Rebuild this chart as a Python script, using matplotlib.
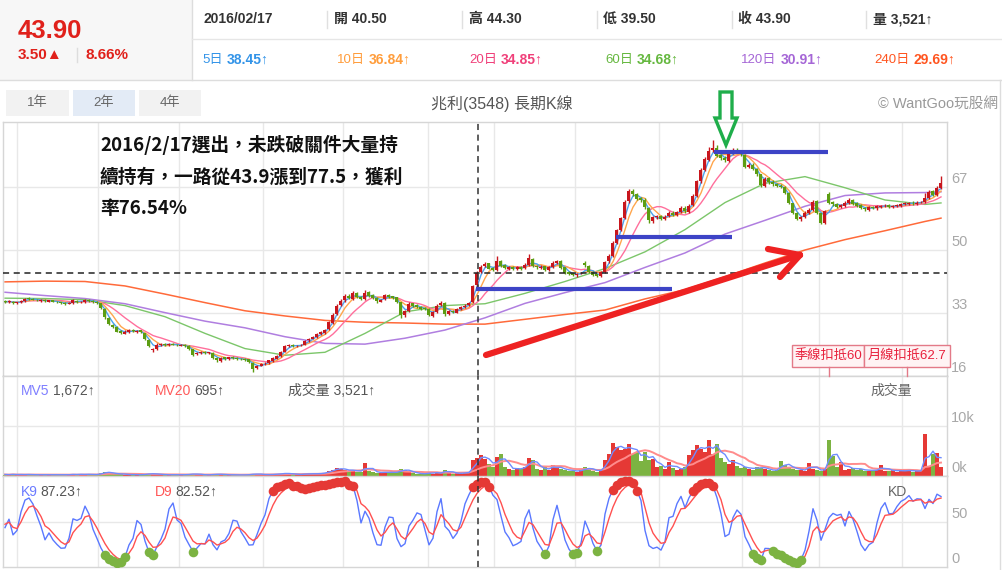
import numpy as np
import pandas as pd
import matplotlib
matplotlib.use("Agg")
import matplotlib.pyplot as plt
import matplotlib.transforms as mtransforms
from matplotlib.patches import Rectangle, Polygon
from matplotlib.lines import Line2D

plt.rcParams['font.family'] = ['Liberation Sans', 'Noto Sans CJK TC', 'DejaVu Sans']

# ---------------- data (one bar ~ two trading days) ----------------
opens = [
    36.3, 35.9, 36.1, 35.6, 35.9, 36.3, 37.1, 36.9, 36.6, 36.3,
    36.5, 36.1, 36.4, 36.1, 35.9, 35.8, 35.5, 35.7, 36.3, 35.9,
    36.0, 36.6, 36.3, 36.0, 35.6, 34.0, 31.6, 29.8, 29.2, 28.1,
    27.4, 27.9, 28.4, 27.9, 28.3, 27.5, 25.8, 22.9, 23.3, 24.4,
    24.7, 24.3, 24.7, 24.5, 24.2, 24.5, 24.1, 23.2, 21.9, 22.2,
    22.6, 22.1, 22.3, 20.9, 20.1, 21.0, 20.6, 21.1, 20.9, 20.6,
    20.6, 20.5, 19.5, 18.2, 18.8, 19.4, 19.5, 20.1, 20.7, 21.3,
    22.6, 24.1, 24.4, 24.0, 24.3, 24.5, 25.6, 26.1, 26.4, 27.4,
    27.7, 28.6, 30.4, 32.6, 35.1, 36.4, 37.7, 36.9, 38.4, 37.3,
    36.9, 38.6, 37.8, 37.1, 36.1, 36.7, 37.9, 37.5, 37.2, 35.9,
    32.4, 33.6, 35.6, 35.1, 34.7, 34.3, 34.1, 32.3, 33.2, 35.1,
    35.7, 32.7, 33.6, 33.1, 34.1, 34.5, 35.1, 36.0, 40.5, 44.0,
    45.6, 46.4, 45.1, 44.5, 47.1, 45.9, 45.0, 45.4, 44.8, 45.4,
    45.1, 45.9, 47.7, 45.7, 45.2, 45.6, 44.5, 45.3, 46.4, 47.0,
    45.3, 44.0, 43.7, 43.2, 43.7, 46.4, 45.8, 44.1, 43.4, 43.0,
    44.1, 46.9, 48.4, 52.0, 55.3, 58.7, 63.1, 65.9, 65.1, 63.9,
    63.6, 61.4, 57.9, 58.9, 59.1, 58.5, 59.1, 60.1, 59.4, 60.3,
    61.4, 60.3, 62.1, 64.6, 68.6, 71.7, 74.4, 76.9, 77.6, 75.6,
    74.9, 74.1, 76.1, 77.1, 76.6, 75.7, 72.4, 73.0, 71.9, 70.4,
    67.4, 69.3, 68.4, 67.9, 67.4, 67.1, 65.4, 62.6, 59.9, 58.3,
    58.9, 60.1, 60.7, 63.1, 59.9, 57.3, 65.0, 62.9, 62.4, 61.6,
    62.0, 62.6, 63.5, 62.6, 62.1, 61.4, 60.9, 61.7, 61.2, 61.7,
    61.8, 62.1, 61.5, 61.9, 62.0, 62.4, 62.5, 62.8, 62.5, 62.9,
    62.9, 64.1, 65.8, 64.8, 66.7]

highs = [
    36.5, 36.4, 36.3, 36.1, 36.5, 37.0, 37.3, 37.0, 36.8, 36.7,
    36.7, 36.6, 36.6, 36.3, 36.1, 36.0, 36.0, 36.8, 36.5, 36.3,
    36.9, 36.8, 36.5, 36.2, 35.8, 34.3, 31.9, 30.1, 29.5, 28.4,
    28.3, 28.6, 28.6, 28.5, 28.5, 27.7, 26.0, 23.6, 24.8, 24.9,
    24.9, 24.8, 24.9, 24.7, 24.6, 24.7, 24.3, 23.4, 22.6, 22.8,
    22.8, 22.6, 22.5, 21.1, 21.1, 21.2, 21.2, 21.3, 21.0, 20.8,
    20.8, 20.7, 19.7, 19.0, 19.5, 19.8, 20.4, 21.0, 21.6, 22.8,
    24.3, 24.6, 24.6, 24.4, 24.7, 25.8, 26.3, 26.8, 27.6, 28.1,
    28.8, 30.8, 32.9, 35.4, 36.8, 38.0, 38.0, 39.0, 38.6, 37.6,
    39.2, 38.9, 38.0, 37.3, 36.9, 38.2, 38.1, 37.6, 37.4, 36.0,
    33.9, 35.9, 35.8, 35.3, 34.9, 34.5, 34.3, 33.6, 35.3, 36.2,
    35.9, 33.8, 33.8, 34.3, 34.9, 35.3, 36.1, 40.6, 44.3, 46.0,
    46.8, 46.6, 45.4, 48.4, 47.4, 46.1, 45.7, 45.6, 45.6, 45.6,
    46.4, 49.0, 47.9, 45.9, 45.9, 45.8, 45.7, 47.0, 47.4, 47.3,
    45.5, 44.2, 43.9, 43.9, 44.1, 46.9, 46.0, 44.3, 43.6, 44.3,
    47.1, 48.9, 52.3, 55.8, 59.0, 63.6, 66.5, 66.4, 65.4, 64.2,
    63.9, 61.6, 59.3, 59.5, 59.4, 59.4, 60.6, 60.5, 60.6, 61.8,
    61.8, 62.4, 65.0, 69.0, 72.2, 75.2, 77.8, 79.6, 78.2, 76.0,
    75.3, 76.5, 77.6, 77.5, 76.9, 75.9, 73.5, 73.4, 72.2, 70.6,
    69.7, 69.6, 68.8, 68.2, 67.8, 67.4, 65.6, 62.8, 60.2, 59.3,
    60.4, 61.3, 63.6, 63.5, 60.1, 60.9, 65.6, 63.2, 62.7, 62.5,
    63.1, 64.0, 63.8, 62.9, 62.3, 61.6, 61.9, 61.9, 62.1, 62.2,
    62.4, 62.3, 62.1, 62.4, 62.6, 63.0, 63.0, 63.1, 63.1, 63.3,
    65.5, 66.3, 66.2, 67.2, 70.0]

lows = [
    35.7, 35.7, 35.4, 35.4, 35.7, 36.1, 36.6, 36.4, 36.2, 36.1,
    36.0, 35.9, 35.9, 35.7, 35.5, 35.2, 35.3, 35.5, 35.8, 35.7,
    35.8, 36.0, 35.8, 35.5, 34.0, 31.5, 29.7, 29.0, 27.8, 27.2,
    27.2, 27.7, 27.8, 27.7, 27.5, 25.7, 23.8, 22.6, 23.1, 24.2,
    24.1, 24.1, 24.3, 24.0, 24.0, 23.8, 23.1, 21.5, 21.6, 22.0,
    21.9, 21.9, 20.5, 19.8, 19.9, 20.4, 20.4, 20.6, 20.3, 20.2,
    20.1, 19.5, 17.0, 18.0, 18.6, 19.1, 19.3, 19.9, 20.5, 21.1,
    22.4, 23.8, 23.8, 23.8, 24.0, 24.3, 25.3, 25.9, 26.2, 27.1,
    27.4, 28.3, 30.1, 32.4, 34.8, 36.1, 36.7, 36.6, 37.0, 36.4,
    36.6, 37.4, 36.7, 35.8, 35.9, 36.5, 37.1, 36.8, 35.8, 31.6,
    32.0, 33.4, 34.7, 34.3, 33.9, 33.7, 32.1, 32.0, 33.0, 34.9,
    32.3, 32.4, 32.9, 32.9, 33.9, 34.3, 34.9, 35.7, 39.5, 43.7,
    45.3, 44.8, 44.2, 44.3, 45.5, 44.8, 44.7, 44.5, 44.6, 44.7,
    44.9, 45.7, 45.3, 45.0, 45.0, 44.3, 44.2, 45.1, 46.1, 44.9,
    43.5, 43.2, 42.9, 42.8, 43.4, 45.4, 43.7, 43.0, 42.7, 42.8,
    43.9, 46.5, 48.1, 51.7, 55.0, 58.4, 62.8, 64.6, 63.4, 63.0,
    61.1, 57.4, 57.4, 58.5, 58.0, 58.1, 58.8, 59.1, 59.1, 60.0,
    60.0, 60.1, 61.8, 64.3, 68.2, 71.4, 74.0, 76.4, 75.1, 74.3,
    73.7, 73.8, 75.8, 76.1, 75.4, 72.0, 72.0, 71.5, 70.1, 67.1,
    67.0, 67.9, 67.4, 66.9, 66.6, 65.2, 62.4, 59.7, 58.0, 57.7,
    58.6, 59.7, 60.5, 59.6, 56.9, 56.9, 62.4, 62.0, 61.3, 61.3,
    61.7, 62.3, 62.2, 61.6, 61.0, 60.6, 60.6, 61.0, 60.9, 61.4,
    61.5, 61.3, 61.2, 61.6, 61.7, 62.1, 62.2, 62.2, 62.2, 62.6,
    62.6, 63.8, 64.6, 64.5, 66.4]

closes = [
    36.0, 36.2, 35.6, 35.9, 36.3, 36.8, 36.9, 36.6, 36.4, 36.5,
    36.2, 36.4, 36.1, 35.9, 35.7, 35.5, 35.8, 36.4, 36.0, 36.1,
    36.6, 36.2, 36.0, 35.8, 34.3, 31.8, 30.0, 29.3, 28.0, 27.6,
    28.0, 28.3, 28.1, 28.2, 27.8, 26.0, 24.0, 23.2, 24.5, 24.6,
    24.4, 24.6, 24.5, 24.3, 24.4, 24.0, 23.4, 21.8, 22.3, 22.5,
    22.2, 22.4, 20.8, 20.2, 20.9, 20.7, 21.0, 20.8, 20.6, 20.5,
    20.4, 19.8, 18.0, 18.8, 19.3, 19.5, 20.2, 20.8, 21.4, 22.5,
    24.0, 24.3, 24.1, 24.2, 24.4, 25.5, 26.0, 26.5, 27.3, 27.8,
    28.5, 30.5, 32.5, 35.0, 36.3, 37.6, 37.0, 38.3, 37.2, 36.8,
    38.5, 37.7, 37.0, 36.2, 36.6, 37.8, 37.4, 37.1, 36.0, 32.5,
    33.5, 35.5, 35.0, 34.6, 34.2, 34.0, 32.4, 33.3, 35.0, 35.8,
    32.6, 33.5, 33.2, 34.0, 34.6, 35.0, 35.8, 40.4, 43.9, 45.5,
    46.3, 45.0, 44.6, 47.0, 45.8, 45.1, 45.3, 44.9, 45.3, 45.0,
    46.0, 47.8, 45.6, 45.3, 45.5, 44.6, 45.4, 46.5, 46.9, 45.2,
    43.9, 43.6, 43.3, 43.6, 43.8, 45.9, 44.0, 43.3, 43.1, 44.0,
    46.8, 48.5, 51.9, 55.4, 58.6, 63.0, 65.8, 65.0, 63.8, 63.5,
    61.5, 58.0, 58.8, 59.0, 58.4, 59.0, 60.0, 59.5, 60.2, 61.3,
    60.4, 62.0, 64.5, 68.5, 71.6, 74.5, 76.8, 77.5, 75.5, 74.8,
    74.2, 76.0, 77.0, 76.5, 75.8, 72.5, 72.9, 71.8, 70.5, 67.5,
    69.2, 68.3, 67.8, 67.3, 67.0, 65.5, 62.7, 60.0, 58.4, 58.8,
    60.0, 60.8, 63.0, 60.0, 57.4, 60.5, 62.8, 62.5, 61.7, 62.1,
    62.7, 63.4, 62.5, 62.0, 61.3, 61.0, 61.6, 61.3, 61.8, 61.9,
    62.0, 61.6, 61.8, 62.1, 62.3, 62.6, 62.7, 62.6, 62.8, 63.0,
    64.0, 65.7, 64.9, 66.8, 68.2]

volumes = [
    300, 250, 400, 200, 300, 350, 250, 200, 300, 250,
    200, 300, 250, 200, 250, 300, 200, 450, 250, 300,
    400, 300, 250, 300, 700, 900, 600, 400, 500, 350,
    300, 250, 300, 200, 250, 450, 500, 400, 350, 300,
    200, 250, 300, 200, 250, 300, 350, 500, 300, 250,
    200, 250, 400, 350, 300, 250, 200, 250, 200, 200,
    250, 300, 500, 350, 300, 250, 300, 350, 400, 500,
    600, 400, 300, 350, 300, 500, 450, 400, 500, 550,
    700, 1100, 1300, 1600, 1400, 1200, 1000, 1300, 900, 800,
    2600, 1100, 800, 700, 600, 900, 700, 600, 900, 1400,
    1200, 900, 600, 500, 400, 450, 800, 500, 700, 600,
    1300, 700, 500, 600, 500, 700, 900, 3200, 3521, 4300,
    3500, 2500, 1800, 3900, 4400, 1900, 1500, 1200, 1700, 1400,
    1900, 3700, 3200, 1500, 1200, 1800, 1300, 2200, 1600, 1400,
    1300, 1000, 1100, 900, 1200, 1800, 1500, 1000, 900, 1400,
    3300, 4500, 6700, 5900, 5200, 5500, 6400, 4500, 4900, 3000,
    4900, 3200, 3500, 1800, 2000, 1400, 2900, 1600, 1200, 1500,
    1800, 4200, 5200, 6300, 5500, 4800, 7300, 4500, 6500, 3600,
    2800, 2500, 3300, 2000, 1600, 1800, 1500, 1300, 1900, 1700,
    1400, 1200, 1000, 1300, 3000, 2200, 1800, 1500, 1300, 1200,
    1100, 2700, 1400, 1200, 1000, 1500, 7200, 4000, 1800, 2900,
    1300, 1500, 1700, 1200, 1400, 1100, 1000, 1300, 1200, 2200,
    1100, 1000, 1300, 900, 1000, 1200, 1100, 900, 1000, 1200,
    8400, 2000, 4500, 4700, 1800]

# long moving averages (bar index -> value)
ma_idx = [0, 10, 20, 30, 40, 50, 60, 70, 80, 90, 100, 110, 120,
          130, 140, 150, 160, 170, 180, 190, 200, 210, 220, 230, 234]
ma60_vals = [37.0, 36.9, 36.6, 35.0, 32.0, 27.5, 23.4, 21.6, 22.4, 27.5, 33.3, 35.0, 35.5,
             38.3, 41.5, 45.0, 49.5, 55.5, 62.8, 68.0, 69.8, 66.8, 63.5, 62.3, 62.7]
ma120_vals = [38.6, 37.7, 36.9, 35.5, 33.1, 30.8, 29.0, 26.6, 24.8, 24.6, 26.2, 28.4, 31.7,
              35.6, 38.5, 41.2, 45.3, 49.2, 54.3, 58.0, 61.8, 64.7, 65.4, 65.5, 65.7]
ma240_vals = [41.4, 41.6, 41.5, 40.3, 38.1, 35.8, 33.6, 32.2, 31.0, 30.5, 30.3, 30.0, 30.0,
              31.3, 32.6, 33.8, 36.8, 39.3, 42.8, 46.5, 50.0, 52.8, 55.2, 57.7, 58.6]

month_grid = [3, 23.25, 43.5, 64.5, 84.5, 105.75, 122.25, 142.5, 163.5, 184.25, 203.5, 224.25]
price_ticks = [67, 50, 33, 16]
vol_ticks = [10000, 0]
vol_tick_labels = ['10k', '0k']
kd_ticks = [50, 0]
sel_idx = 118
sel_close = 43.9

# ---------------- figure ----------------
W, H = 1003, 570
fig = plt.figure(figsize=(W / 100, H / 100), dpi=100)
fig.patch.set_facecolor('white')
renderer = fig.canvas.get_renderer()


def fx(x):
    return x / W


def fy(y):
    return 1 - y / H


def add_ax(top, bottom, left=3, right=947):
    return fig.add_axes([fx(left), fy(bottom), fx(right) - fx(left), fy(top) - fy(bottom)])


def ftext(x, y, s, **kw):
    kw.setdefault('va', 'center')
    kw.setdefault('ha', 'left')
    return fig.text(fx(x), fy(y), s, **kw)


def ftext_after(prev, gap, y, s, **kw):
    bb = prev.get_window_extent(renderer)
    return ftext(bb.x1 + gap, y, s, **kw)


def fline(x0, y0, x1, y1, **kw):
    fig.add_artist(Line2D([fx(x0), fx(x1)], [fy(y0), fy(y1)], transform=fig.transFigure, **kw))


def frect(x0, y0, x1, y1, **kw):
    fig.add_artist(Rectangle((fx(x0), fy(y1)), fx(x1) - fx(x0), fy(y0) - fy(y1),
                             transform=fig.transFigure, **kw))


n = min(len(opens), len(highs), len(lows), len(closes), len(volumes))
idx = np.arange(n)
o = np.array(opens[:n]); h = np.array(highs[:n]); l = np.array(lows[:n]); c = np.array(closes[:n])
v = np.array(volumes[:n])
up = c >= o

ax = add_ax(122, 376)
axv = add_ax(376, 476)
axk = add_ax(476, 567)

GRID = '#e8e8e8'
for a in (ax, axv, axk):
    a.set_xlim(-0.5, 235.5)
    a.set_xticks([]); a.set_yticks([])
    for s in a.spines.values():
        s.set_color('#d6d6d6'); s.set_linewidth(1)
    for g in month_grid:
        a.axvline(g, color=GRID, lw=1, zorder=0)
    a.axvline(sel_idx + 0.25, color='#333333', lw=1.1, ls=(0, (4, 3)), zorder=6)

# ---- main panel ----
ax.set_ylim(16, 84.54)
for t in price_ticks[:-1]:
    ax.axhline(t, color=GRID, lw=1, zorder=0)
ax.spines['bottom'].set_color('#bdbdbd')

cs = pd.Series(c)
ma_cols = {'m5': '#4aa3f0', 'm10': '#ffa64d', 'm20': '#ff6f9c', 'm60': '#7cc66a',
           'm120': '#b07ee0', 'm240': '#ff6a3a'}
ax.plot(ma_idx, ma240_vals, color=ma_cols['m240'], lw=1.1, zorder=2)
ax.plot(ma_idx, ma120_vals, color=ma_cols['m120'], lw=1.1, zorder=2)
ax.plot(ma_idx, ma60_vals, color=ma_cols['m60'], lw=1.0, zorder=2)
ax.plot(idx, cs.rolling(10, min_periods=1).mean(), color=ma_cols['m20'], lw=1.0, zorder=2)
ax.plot(idx, cs.rolling(5, min_periods=1).mean(), color=ma_cols['m10'], lw=1.0, zorder=2)
ax.plot(idx, cs.rolling(3, min_periods=1).mean(), color=ma_cols['m5'], lw=1.0, zorder=2)

body_col = np.where(up, '#c8161d', '#5c9d12')
ax.vlines(idx, l, h, colors=body_col, lw=1, zorder=3)
ax.bar(idx, np.maximum(np.abs(c - o), 0.18), bottom=np.minimum(o, c), width=0.75,
       color=body_col, linewidth=0, zorder=4)

ax.axhline(sel_close, color='#222222', lw=1.1, ls=(0, (4, 3)), zorder=5)

# ---- volume panel ----
axv.set_ylim(0, 20000)
axv.axhline(vol_ticks[0], color=GRID, lw=1, zorder=0)
vol_col = np.where(up, '#e53935', '#7cb342')
axv.bar(idx, v, width=0.78, color=vol_col, linewidth=0, zorder=3)
vs = pd.Series(v.astype(float))
axv.plot(idx, vs.rolling(10, min_periods=1).mean(), color='#ff8c8c', lw=1.4, zorder=4)
axv.plot(idx, vs.rolling(3, min_periods=1).mean(), color='#6f8cff', lw=1.0, zorder=4)
axv.spines['bottom'].set_color('#bdbdbd')

# ---- KD panel ----
axk.set_ylim(0, 101.1)
axk.axhline(kd_ticks[0], color=GRID, lw=1, zorder=0)
K = []; D = []
k_prev = d_prev = 50.0
for i in range(n):
    lo = l[max(0, i - 4):i + 1].min(); hi = h[max(0, i - 4):i + 1].max()
    rsv = (c[i] - lo) / (hi - lo) * 100 if hi > lo else 50.0
    k_prev = k_prev * 0.5 + rsv * 0.5
    d_prev = d_prev * 0.6 + k_prev * 0.4
    K.append(k_prev); D.append(d_prev)
K = np.array(K); D = np.array(D)
axk.plot(idx, K, color='#5a78ff', lw=1.0, zorder=3)
axk.plot(idx, D, color='#ff5050', lw=1.0, zorder=3)
hi_m = K >= 82
lo_m = K <= 18
axk.scatter(idx[hi_m], K[hi_m], s=48, color='#e53935', zorder=5, linewidths=0)
axk.scatter(idx[lo_m], K[lo_m], s=48, color='#7cb342', zorder=5, linewidths=0)

# ---- right-side labels (drawn 8px above their grid line) ----
def right_labels(a, vals, labels):
    tr = mtransforms.blended_transform_factory(a.transAxes, a.transData) + \
        mtransforms.ScaledTranslation(0.04, 0.08, fig.dpi_scale_trans)
    for val, lab in zip(vals, labels):
        a.text(1.0, val, lab, transform=tr, ha='left', va='center', fontsize=10.5,
               color='#a8a8a8', clip_on=False)


right_labels(ax, price_ticks, [str(t) for t in price_ticks])
right_labels(axv, vol_ticks, vol_tick_labels)
right_labels(axk, kd_ticks, [str(t) for t in kd_ticks])

# ---------------- header ----------------
frect(0, 0, 192, 80, facecolor='#f7f7f7', edgecolor='none')
fline(192, 0, 192, 80, color='#dddddd', lw=1)
fline(192, 39, 1003, 39, color='#e6e6e6', lw=1)
fline(0, 80, 1003, 80, color='#dddddd', lw=1)
fline(1000, 80, 1000, 570, color='#dddddd', lw=1)

RED = '#e0211b'
ftext(18, 31, '43.90', fontsize=18.5, fontweight='bold', color=RED)
ftext(18, 55, '3.50▲', fontsize=11, fontweight='bold', color=RED)
fline(77, 48, 77, 62, color='#dddddd', lw=1)
ftext(86, 55, '8.66%', fontsize=11, fontweight='bold', color=RED)

row1 = [(204, '2016/02/17'), (334, '開 40.50'), (469, '高 44.30'), (603, '低 39.50'),
        (738, '收 43.90'), (873, '量 3,521↑')]
for x, s in row1:
    ftext(x, 19, s, fontsize=10, fontweight='bold', color='#333333')
for x in (327, 462, 597, 732, 866):
    fline(x, 11, x, 28, color='#e0e0e0', lw=1)

row2 = [(202, '5日', '38.45↑', '#3394e8'), (337, '10日', '36.84↑', '#ff9d3c'),
        (469, '20日', '34.85↑', '#f0407a'), (605, '60日', '34.68↑', '#66b840'),
        (741, '120日', '30.91↑', '#a566d6'), (874, '240日', '29.69↑', '#ff5520')]
for x0, p, val, col in row2:
    t = ftext(x0, 60, p, fontsize=9.5, color=col)
    ftext_after(t, 4, 60, val, fontsize=10, fontweight='bold', color=col)

# range buttons
for (x0, x1, lab, fc) in [(6, 69, '1年', '#f2f2f2'), (73, 135, '2年', '#e3ebf6'),
                          (139, 201, '4年', '#f2f2f2')]:
    frect(x0, 90, x1, 116, facecolor=fc, edgecolor='none')
    ftext((x0 + x1) / 2, 103, lab, fontsize=9.5, color='#666666', ha='center')

ftext(502, 104, '兆利(3548) 長期K線', fontsize=11.5, color='#555555', ha='center')
ftext(998, 104, '© WantGoo玩股網', fontsize=10.5, color='#999999', ha='right')

# ---------------- panel labels ----------------
t = ftext(21, 391, 'MV5', fontsize=10, color='#7f7fff')
ftext_after(t, 3, 391, '1,672↑', fontsize=10, color='#555555')
t = ftext(155, 391, 'MV20', fontsize=10, color='#ff5a5a')
ftext_after(t, 3, 391, '695↑', fontsize=10, color='#555555')
ftext(288, 391, '成交量 3,521↑', fontsize=10, color='#555555')
ftext(870, 391, '成交量', fontsize=10, color='#666666')

t = ftext(21, 492, 'K9', fontsize=10, color='#6b7bff')
ftext_after(t, 3, 492, '87.23↑', fontsize=10, color='#555555')
t = ftext(155, 492, 'D9', fontsize=10, color='#ff5555')
ftext_after(t, 3, 492, '82.52↑', fontsize=10, color='#555555')
ftext(888, 492, 'KD', fontsize=10, color='#666666')

# ---------------- hand-drawn markup ----------------
note = ['2016/2/17選出，未跌破關件大量持', '續持有，一路從43.9漲到77.5，獲利', '率76.54%']
for j, s in enumerate(note):
    ftext(100, 145 + 32 * j, s, fontsize=13.5, fontweight='bold', color='#111111',
          family=['Noto Sans CJK TC', 'DejaVu Sans'])

BLUE = '#3d44c6'
fline(476, 289, 672, 289, color=BLUE, lw=3, solid_capstyle='butt')
fline(616, 237, 732, 237, color=BLUE, lw=3, solid_capstyle='butt')
fline(714, 152, 828, 152, color=BLUE, lw=3, solid_capstyle='butt')

ARED = '#ee2222'
fline(486, 355, 800, 255, color=ARED, lw=4.5, solid_capstyle='round')
fline(768, 249, 800, 255, color=ARED, lw=4.5, solid_capstyle='round')
fline(780, 277, 800, 255, color=ARED, lw=4.5, solid_capstyle='round')

garrow = [(720, 92), (732, 92), (732, 118), (737, 118), (726, 145), (715, 118), (720, 118)]
fig.add_artist(Polygon([(fx(px), fy(py)) for px, py in garrow], closed=True, fill=False,
                       edgecolor='#1fae4b', lw=2.4, transform=fig.transFigure, joinstyle='miter'))

for (x0, x1, lab, tick) in [(792, 864, '季線扣抵60', 829), (864, 950, '月線扣抵62.7', 907)]:
    frect(x0, 345, x1, 367, facecolor='#fff3f4', edgecolor='#e37a88', lw=1)
    ftext((x0 + x1) / 2, 356, lab, fontsize=9.5, color='#e8203c', ha='center')
    fline(tick, 367, tick, 376, color='#e37a88', lw=1)

fig.savefig('out.png', dpi=100, facecolor='white')
